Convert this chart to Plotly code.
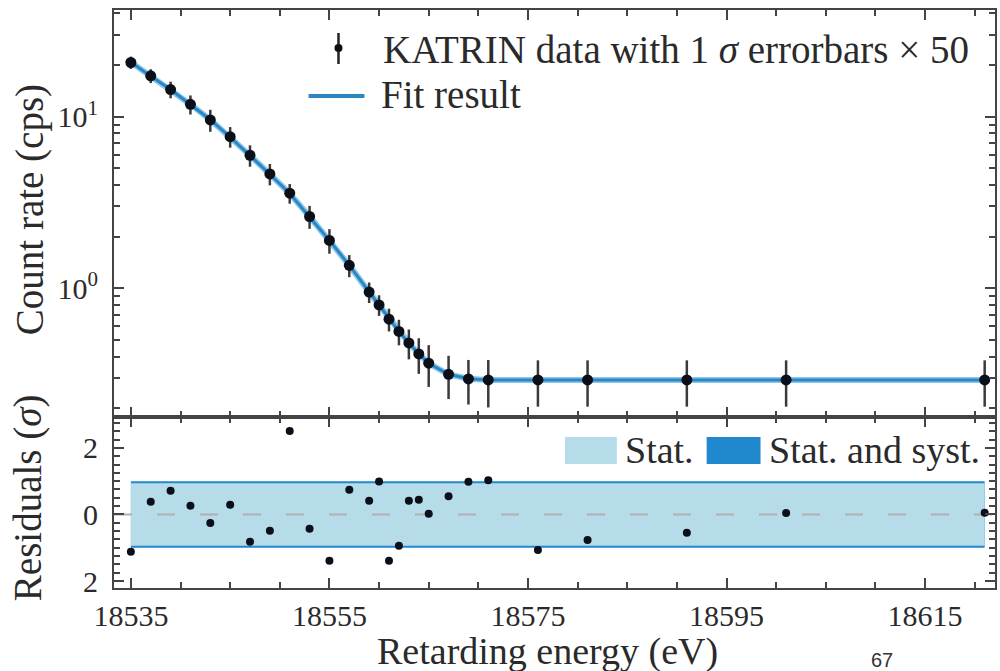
import plotly.graph_objects as go
from plotly.subplots import make_subplots

# ---------------- data ----------------
energy = [18535, 18537, 18539, 18541, 18543, 18545, 18547, 18549, 18551, 18553,
          18555, 18557, 18559, 18560, 18561, 18562, 18563, 18564, 18565, 18567,
          18569, 18571, 18576, 18581, 18591, 18601, 18621]
rate = [20.7, 17.3, 14.4, 11.8, 9.57, 7.65, 5.96, 4.64, 3.58, 2.62,
        1.90, 1.36, 0.95, 0.80, 0.66, 0.56, 0.48, 0.414, 0.366, 0.315,
        0.296, 0.292, 0.292, 0.292, 0.292, 0.292, 0.292]
err_x50 = [1.7, 1.6, 1.6, 1.5, 1.4, 1.05, 0.85, 0.66, 0.47, 0.40,
           0.31, 0.20, 0.13, 0.11, 0.10, 0.095, 0.095, 0.097, 0.10, 0.089,
           0.086, 0.09, 0.088, 0.088, 0.088, 0.088, 0.088]
fit_rate = [20.8, 17.2, 14.4, 11.8, 9.6, 7.6, 5.95, 4.62, 3.57, 2.62,
            1.90, 1.36, 0.95, 0.80, 0.66, 0.56, 0.48, 0.415, 0.365, 0.315,
            0.297, 0.292, 0.292, 0.292, 0.292, 0.292, 0.292]
residuals = [-1.12, 0.38, 0.71, 0.26, -0.26, 0.29, -0.82, -0.49, 2.51, -0.43,
             -1.39, 0.74, 0.41, 0.99, -1.39, -0.94, 0.41, 0.44, 0.02, 0.55,
             0.98, 1.03, -1.07, -0.77, -0.55, 0.04, 0.05]
band_x = [18535, 18621]
stat_band = [0.94, 0.94]
total_band = [1.0, 1.0]

x_ticks = [18535, 18555, 18575, 18595, 18615]
x_ticklabels = ["18535", "18555", "18575", "18595", "18615"]
y_ticks = [1, 10]
y_ticklabels = ["10<sup>0</sup>", "10<sup>1</sup>"]
y_minor = [0.2, 0.3, 0.4, 0.5, 0.6, 0.7, 0.8, 0.9, 2, 3, 4, 5, 6, 7, 8, 9, 20, 30, 40]
r_ticks = [-2, 0, 2]
r_ticklabels = ["2", "0", "2"]

# ---------------- style ----------------
FONT = "Liberation Serif"
TXT = "#2a2a2a"
AX = "#444444"
FIT = "#2b86c4"
LIGHT = "#b6dcea"
DARK = "#2088cc"

L, R, T, B = 114, 997, 10, 588
W, H = 1000, 671


def xp(px):
    return (px - L) / (R - L)


def yp(py):
    return (B - py) / (B - T)


fig = make_subplots(rows=2, cols=1, shared_xaxes=True,
                    row_heights=[0.704, 0.296], vertical_spacing=0)

# top panel
fig.add_trace(go.Scatter(x=energy, y=fit_rate, mode="lines",
                         line=dict(color="#8cc8ec", width=6), showlegend=False,
                         hoverinfo="skip"),
              row=1, col=1)
fig.add_trace(go.Scatter(x=energy, y=fit_rate, mode="lines",
                         line=dict(color=FIT, width=3), showlegend=False),
              row=1, col=1)
fig.add_trace(go.Scatter(x=energy, y=rate, mode="markers",
                         marker=dict(color="#0a0f1a", size=11),
                         error_y=dict(type="data", array=err_x50, visible=True,
                                      color="#3a3a3a", thickness=2.5, width=0),
                         showlegend=False),
              row=1, col=1)

# residual panel bands
fig.add_trace(go.Scatter(x=band_x + band_x[::-1],
                         y=total_band + [-v for v in total_band[::-1]],
                         fill="toself", fillcolor=DARK, line=dict(width=0),
                         mode="lines", showlegend=False, hoverinfo="skip"),
              row=2, col=1)
fig.add_trace(go.Scatter(x=band_x + band_x[::-1],
                         y=stat_band + [-v for v in stat_band[::-1]],
                         fill="toself", fillcolor=LIGHT, line=dict(width=0),
                         mode="lines", showlegend=False, hoverinfo="skip"),
              row=2, col=1)
fig.add_trace(go.Scatter(x=[18533.3, 18622.0], y=[0, 0], mode="lines",
                         line=dict(color="#b0b0b0", width=2, dash="18px,25px"),
                         showlegend=False, hoverinfo="skip"),
              row=2, col=1)
fig.add_trace(go.Scatter(x=energy, y=residuals, mode="markers",
                         marker=dict(color="#0a0f1a", size=8),
                         showlegend=False),
              row=2, col=1)

common = dict(showline=True, linecolor=AX, linewidth=2, mirror="ticks",
              ticks="inside", tickcolor=AX, tickwidth=2, ticklen=10,
              showgrid=False, zeroline=False,
              tickfont=dict(family=FONT, size=30, color=TXT))

fig.update_xaxes(range=[18533.3, 18622.04], tickvals=x_ticks, ticktext=x_ticklabels,
                 minor=dict(dtick=5, tick0=18535, ticks="inside", ticklen=6,
                            tickcolor=AX, tickwidth=1.5),
                 **common)
fig.update_xaxes(showticklabels=False, row=1, col=1)
fig.update_xaxes(ticklabelstandoff=0, row=2, col=1)

fig.update_yaxes(type="log", range=[-0.75, 1.622], tickvals=y_ticks,
                 ticktext=y_ticklabels, ticklabelstandoff=8,
                 minor=dict(tickvals=y_minor, ticks="inside", ticklen=6,
                            tickcolor=AX, tickwidth=1.5),
                 row=1, col=1, **common)
fig.update_yaxes(range=[-2.21, 2.93], tickvals=r_ticks, ticktext=r_ticklabels,
                 ticklabelstandoff=8,
                 minor=dict(dtick=0.25, tick0=0, ticks="inside", ticklen=6,
                            tickcolor=AX, tickwidth=1.5),
                 row=2, col=1, **common)

# ---------------- legends & titles ----------------
shapes = []
annotations = []

# top legend
shapes.append(dict(type="line", xref="paper", yref="paper",
                   x0=xp(339), x1=xp(339), y0=yp(33), y1=yp(64),
                   line=dict(color="#222", width=2.5)))
shapes.append(dict(type="circle", xref="paper", yref="paper",
                   x0=xp(335), x1=xp(343), y0=yp(44), y1=yp(52),
                   fillcolor="#0a0f1a", line=dict(width=0)))
shapes.append(dict(type="line", xref="paper", yref="paper",
                   x0=xp(309), x1=xp(365), y0=yp(96), y1=yp(96),
                   line=dict(color=FIT, width=4)))
annotations.append(dict(x=xp(382), y=yp(50), xref="paper", yref="paper",
                        text="KATRIN data with 1 <i>σ</i> errorbars × 50",
                        showarrow=False, xanchor="left", yanchor="middle",
                        font=dict(family=FONT, size=39, color=TXT)))
annotations.append(dict(x=xp(380), y=yp(94), xref="paper", yref="paper",
                        text="Fit result",
                        showarrow=False, xanchor="left", yanchor="middle",
                        font=dict(family=FONT, size=39, color=TXT)))

# residual legend
shapes.append(dict(type="rect", xref="paper", yref="paper",
                   x0=xp(566), x1=xp(618), y0=yp(437), y1=yp(464),
                   fillcolor=LIGHT, line=dict(width=0)))
shapes.append(dict(type="rect", xref="paper", yref="paper",
                   x0=xp(708), x1=xp(762), y0=yp(437), y1=yp(464),
                   fillcolor=DARK, line=dict(width=0)))
annotations.append(dict(x=xp(624), y=yp(450), xref="paper", yref="paper",
                        text="Stat.", showarrow=False, xanchor="left",
                        yanchor="middle",
                        font=dict(family=FONT, size=38, color=TXT)))
annotations.append(dict(x=xp(768), y=yp(450), xref="paper", yref="paper",
                        text="Stat. and syst.", showarrow=False, xanchor="left",
                        yanchor="middle",
                        font=dict(family=FONT, size=38, color=TXT)))

# axis titles
annotations.append(dict(x=xp(30), y=yp(210), xref="paper", yref="paper",
                        text="Count rate (cps)", textangle=-90, showarrow=False,
                        xanchor="center", yanchor="middle",
                        font=dict(family=FONT, size=39, color=TXT)))
annotations.append(dict(x=xp(28), y=yp(498), xref="paper", yref="paper",
                        text="Residuals (<i>σ</i>)", textangle=-90, showarrow=False,
                        xanchor="center", yanchor="middle",
                        font=dict(family=FONT, size=39, color=TXT)))
annotations.append(dict(x=xp(548), y=yp(651), xref="paper", yref="paper",
                        text="Retarding energy (eV)", showarrow=False,
                        xanchor="center", yanchor="middle",
                        font=dict(family=FONT, size=38, color=TXT)))
annotations.append(dict(x=xp(884), y=yp(660), xref="paper", yref="paper",
                        text="67", showarrow=False,
                        xanchor="center", yanchor="middle",
                        font=dict(family="Liberation Sans", size=20, color="#333")))

fig.update_layout(width=W, height=H,
                  margin=dict(l=L, r=W - R, t=T, b=H - B, pad=0),
                  paper_bgcolor="white", plot_bgcolor="white",
                  showlegend=False, shapes=shapes, annotations=annotations)

fig.write_html("out.html")
